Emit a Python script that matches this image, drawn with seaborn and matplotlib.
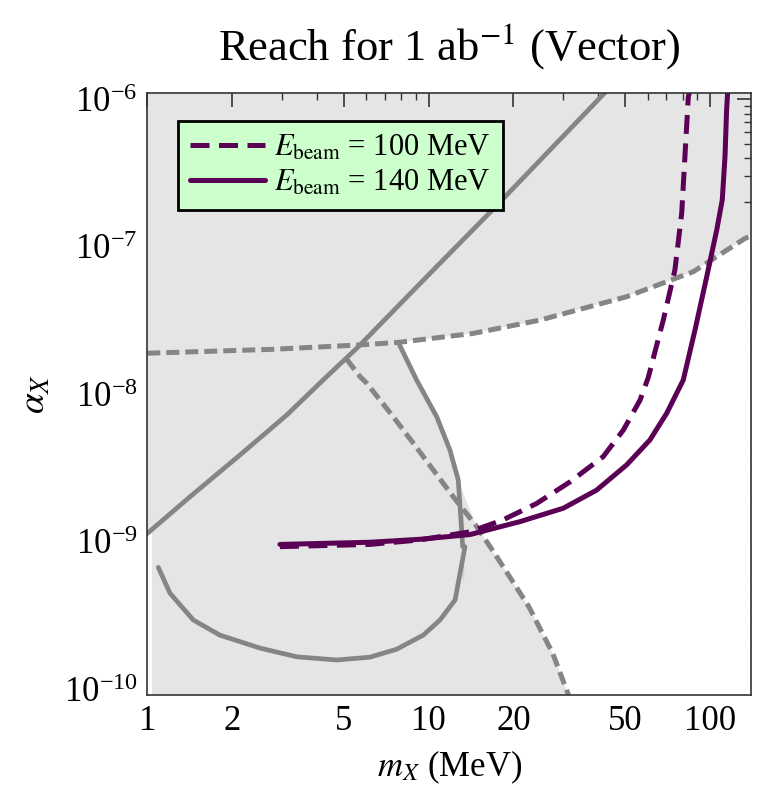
import numpy as np
import matplotlib
matplotlib.use("Agg")
import matplotlib.pyplot as plt
import seaborn as sns
from matplotlib.ticker import LogLocator, FixedLocator, NullFormatter

# ---------------- data ----------------
# solid grey diagonal constraint
diag_m = [1.0, 1.418, 2.135, 3.13, 4.25, 5.62, 10.1, 16.75, 42.3]
diag_a = [1.14e-9, 2.02e-9, 3.88e-9, 7.24e-9, 1.27e-8, 2.10e-8, 6.6e-8, 1.76e-7, 1.11e-6]

# upper dashed grey constraint
top_m = [1.0, 2.80, 5.62, 7.80, 14.4, 24.9, 50.5, 87.1, 133.0, 140.0]
top_a = [1.90e-8, 2.02e-8, 2.16e-8, 2.25e-8, 2.59e-8, 3.19e-8, 4.59e-8, 6.78e-8, 1.14e-7, 1.19e-7]

# descending dashed grey constraint
desc_m = [5.11, 5.70, 6.02, 7.48, 8.82, 10.38, 12.23, 14.81, 17.45, 22.7, 27.6, 31.4]
desc_a = [1.73e-8, 1.32e-8, 1.19e-8, 7.05e-9, 4.66e-9, 3.07e-9, 2.02e-9, 1.27e-9,
          7.93e-10, 3.63e-10, 1.75e-10, 9.14e-11]

# solid grey loop-shaped constraint
loop_m = [7.80, 9.06, 10.68, 11.9, 12.74, 13.21, 13.46, 13.21, 12.41, 10.97, 9.57, 7.70,
          6.18, 4.71, 3.40, 2.52, 1.81, 1.457, 1.204, 1.094]
loop_a = [2.25e-8, 1.25e-8, 7.05e-9, 4.19e-9, 2.62e-9, 1.56e-9, 9.27e-10, 5.51e-10,
          4.03e-10, 2.95e-10, 2.33e-10, 1.87e-10, 1.65e-10, 1.58e-10, 1.66e-10,
          1.90e-10, 2.33e-10, 2.95e-10, 4.48e-10, 6.71e-10]

# reach curves
m100 = [2.96, 6.18, 9.31, 14.03, 18.4, 24.2, 31.8, 41.7, 49.2, 56.4, 60.3, 68.2, 75.0,
        79.3, 81.4, 83.7, 84.6]
a100 = [9.27e-10, 9.6e-10, 1.03e-9, 1.17e-9, 1.41e-9, 1.82e-9, 2.55e-9, 3.78e-9, 5.73e-9,
        9.15e-9, 1.3e-8, 3.19e-8, 6.97e-8, 1.69e-7, 4.08e-7, 1.04e-6, 1.13e-6]

m140 = [2.96, 6.18, 9.31, 14.03, 21.1, 30.1, 39.5, 50.5, 61.1, 70.1, 80.3, 88.4, 97.3,
        105.6, 110.5, 113.0, 114.5, 115.5]
a140 = [9.6e-10, 9.93e-10, 1.04e-9, 1.12e-9, 1.37e-9, 1.69e-9, 2.24e-9, 3.32e-9, 4.90e-9,
        7.43e-9, 1.25e-8, 2.73e-8, 6.27e-8, 1.30e-7, 2.08e-7, 4.08e-7, 8.46e-7, 1.13e-6]

labels = [r"$E_{\rm beam}$ = 100 MeV", r"$E_{\rm beam}$ = 140 MeV"]
title = r"Reach for 1 ab$^{-1}$ (Vector)"
xticks = [1, 2, 5, 10, 20, 50, 100]
xticklabels = ["1", "2", "5", "10", "20", "50", "100"]

# ---------------- style ----------------
sns.set_theme(style="white")
plt.rcParams["font.family"] = ["Liberation Serif", "DejaVu Serif"]
plt.rcParams["mathtext.fontset"] = "stix"
plt.rcParams["text.color"] = "black"
plt.rcParams["axes.labelcolor"] = "black"
plt.rcParams["xtick.color"] = "black"
plt.rcParams["ytick.color"] = "black"
plt.rcParams["lines.solid_joinstyle"] = "round"
plt.rcParams["lines.dash_joinstyle"] = "round"

XMIN, XMAX = 1.0, 140.0
YMIN, YMAX = 9.15e-11, 1.11e-6
GREY = "#e5e5e5"
LINE_GREY = "#858585"
PURPLE = "#5a0055"

fig = plt.figure(figsize=(7.57, 7.91), dpi=100)
ax = fig.add_axes([0.1946, 0.1214, 0.7977, 0.7614])
ax.set_xscale("log")
ax.set_yscale("log")
ax.set_xlim(XMIN, XMAX)
ax.set_ylim(YMIN, YMAX)
ax.set_facecolor(GREY)

# allowed (white) region: below upper dashed line, right of loop / descending dashed line
loop_part = list(zip(loop_m[:5], loop_a[:5]))
desc_part = [(m, a) for m, a in zip(desc_m, desc_a) if a < 1.3e-9]
top_part = [(m, a) for m, a in zip(top_m, top_a) if m > 7.8]
poly = loop_part + desc_part + [(XMAX * 1.2, YMIN * 0.5), (XMAX * 1.2, top_a[-1])] + top_part[::-1]
px, py = zip(*poly)
ax.fill(px, py, color="white", lw=0, zorder=1)
# thin white strip on the left edge below the diagonal line
ax.fill_between([0.9, 1.037], YMIN * 0.5, diag_a[0], color="white", lw=0, zorder=1)

# grey constraint curves
sns.lineplot(x=diag_m, y=diag_a, ax=ax, color=LINE_GREY, lw=3.4, sort=False, zorder=3)
sns.lineplot(x=loop_m, y=loop_a, ax=ax, color=LINE_GREY, lw=3.4, sort=False, zorder=3)
for xm, ya in [(top_m, top_a), (desc_m, desc_a)]:
    sns.lineplot(x=xm, y=ya, ax=ax, color=LINE_GREY, lw=3.6, sort=False, zorder=3)
    ax.lines[-1].set_dashes([2.6, 1.2])

# reach curves
sns.lineplot(x=m100, y=a100, ax=ax, color=PURPLE, lw=3.6, sort=False, zorder=4,
             label=labels[0])
ax.lines[-1].set_dashes([3.8, 1.9])
sns.lineplot(x=m140, y=a140, ax=ax, color=PURPLE, lw=3.6, sort=False, zorder=4,
             label=labels[1])

# ticks
ax.xaxis.set_major_locator(FixedLocator(xticks))
ax.set_xticklabels(xticklabels)
ax.xaxis.set_minor_locator(LogLocator(base=10, subs=np.arange(2, 10)))
ax.xaxis.set_minor_formatter(NullFormatter())
ax.yaxis.set_major_locator(LogLocator(base=10, numticks=10))
ax.yaxis.set_minor_locator(LogLocator(base=10, subs=np.arange(2, 10), numticks=20))
ax.yaxis.set_minor_formatter(NullFormatter())
ax.tick_params(which="both", direction="in", top=True, right=True, labelsize=25,
               color="#333333", pad=7)
ax.tick_params(which="major", length=10, width=1.2)
ax.tick_params(which="minor", length=5, width=1.0)
ax.xaxis.get_offset_text().set_visible(False)
ax.yaxis.get_offset_text().set_visible(False)
for s in ax.spines.values():
    s.set_color("#333333")
    s.set_linewidth(1.2)
    s.set_zorder(6)

ax.set_xlabel(r"$m_X$ (MeV)", fontsize=25, labelpad=8)
ax.set_ylabel(r"$\alpha_X$", fontsize=27, labelpad=8)
ax.set_title(title, fontsize=32, pad=24)

leg = ax.legend(loc="upper left", bbox_to_anchor=(0.051, 0.953), fontsize=22,
                frameon=True, fancybox=False, handlelength=2.45, handletextpad=0.3,
                borderpad=0.4, labelspacing=0.2, borderaxespad=0)
leg.get_frame().set_facecolor("#ccffcc")
leg.get_frame().set_edgecolor("black")
leg.get_frame().set_linewidth(2.0)
leg.get_frame().set_alpha(1)
leg.set_zorder(7)

fig.savefig("out.png", dpi=100)
